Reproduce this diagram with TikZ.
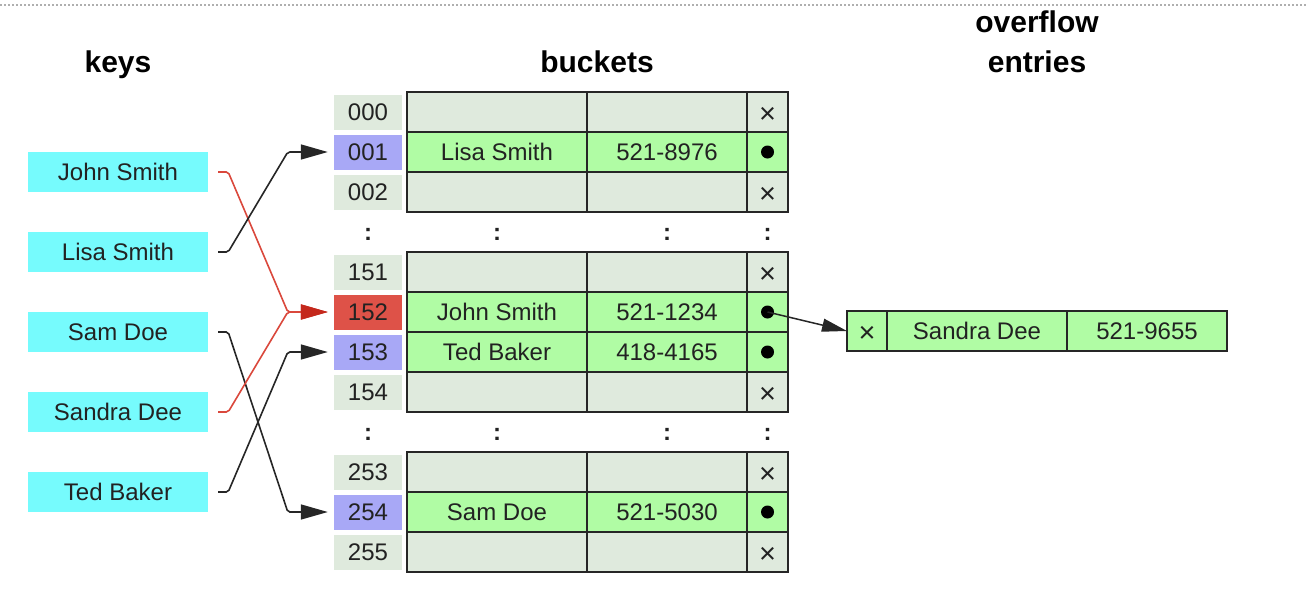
\documentclass[tikz,border=0pt]{standalone}
\usepackage{fontspec}
\setmainfont{Liberation Sans}
\usetikzlibrary{arrows.meta}
\definecolor{keycyan}{RGB}{118,251,253}
\definecolor{lav}{RGB}{168,168,246}
\definecolor{hotred}{RGB}{222,82,72}
\definecolor{lgreen}{RGB}{176,252,164}
\definecolor{lgrey}{RGB}{223,234,221}
\definecolor{redline}{RGB}{218,72,60}
\definecolor{redtip}{RGB}{196,40,28}
\definecolor{txt}{RGB}{34,34,34}
\definecolor{dotgrey}{RGB}{175,175,175}
\newcommand\brow[6]{%
  \node[cell,fill=#3,minimum width=180pt] (n#1) at (497,#2) {#4};
  \node[cell,fill=#3,minimum width=160pt] (p#1) at (667,#2) {#5};
  \node[cell,fill=#3,minimum width=41pt] (x#1) at (767.5,#2) {};
  \node[#6] at (x#1.center) {};
}
\tikzset{
  body/.style={font=\fontsize{24}{24}\selectfont, text=txt},
  head/.style={font=\bfseries\fontsize{30}{40}\selectfont, text=black, inner sep=0pt, anchor=base, align=center},
  keybox/.style={body, fill=keycyan, minimum width=180pt, minimum height=40pt, inner sep=0pt, text height=17.2pt, text depth=0pt},
  idx/.style={body, fill=lgrey, minimum width=68pt, minimum height=35pt, inner sep=0pt, text height=17.2pt, text depth=0pt},
  cell/.style={body, draw=black!85, line width=1.3pt, minimum height=40pt, inner sep=0pt, outer sep=0pt, text height=17.2pt, text depth=0pt},
  nil/.style={inner sep=0pt, label={[inner sep=0pt,yshift=-3pt,font=\fontsize{29}{29}\selectfont,text=txt]center:×}},
  ptr/.style={circle, fill=black, inner sep=0pt, minimum size=13pt},
  colon/.style={font=\bfseries\fontsize{24}{24}\selectfont, text=txt, inner sep=0pt},
  outer/.style={draw=black!85, line width=2.2pt},
  conn/.style={draw=black!85, line width=1.6pt, rounded corners=2pt, -{Triangle[length=27pt,width=15pt]}},
  redconn/.style={draw=redline, line width=1.6pt, rounded corners=2pt, -{Triangle[length=27pt,width=15pt,color=redtip]}},
  dotline/.style={draw=dotgrey, line width=1.5pt, dash pattern=on 2pt off 2pt},
}
\begin{document}
\begin{tikzpicture}[x=1pt,y=-1pt]
\useasboundingbox (0,0) rectangle (1308,614);
\coordinate (tl) at (0,5);
\coordinate (tr) at (1308,5);
\draw[dotline] (tl) -- (tr);

% headers
\node[head] (hkeys) at (118,72) {keys};
\node[head] (hbuck) at (597,72) {buckets};
\node[head] (hover) at (1037,72) {overflow\\entries};

% keys
\node[keybox] (john)   at (118,172) {John Smith};
\node[keybox] (lisa)   at (118,252) {Lisa Smith};
\node[keybox] (sam)    at (118,332) {Sam Doe};
\node[keybox] (sandra) at (118,412) {Sandra Dee};
\node[keybox] (ted)    at (118,492) {Ted Baker};

% index column
\node[idx] (i000) at (368,112) {000};
\node[idx,fill=lav] (i001) at (368,152) {001};
\node[idx] (i002) at (368,192) {002};
\node[idx] (i151) at (368,272) {151};
\node[idx,fill=hotred] (i152) at (368,312) {152};
\node[idx,fill=lav] (i153) at (368,352) {153};
\node[idx] (i154) at (368,392) {154};
\node[idx] (i253) at (368,472) {253};
\node[idx,fill=lav] (i254) at (368,512) {254};
\node[idx] (i255) at (368,552) {255};

% buckets
\brow{000}{112}{lgrey}{}{}{nil}
\brow{001}{152}{lgreen}{Lisa Smith}{521-8976}{ptr}
\brow{002}{192}{lgrey}{}{}{nil}
\draw[outer] (n000.north west) rectangle (x002.south east);

\brow{151}{272}{lgrey}{}{}{nil}
\brow{152}{312}{lgreen}{John Smith}{521-1234}{ptr}
\brow{153}{352}{lgreen}{Ted Baker}{418-4165}{ptr}
\brow{154}{392}{lgrey}{}{}{nil}
\draw[outer] (n151.north west) rectangle (x154.south east);

\brow{253}{472}{lgrey}{}{}{nil}
\brow{254}{512}{lgreen}{Sam Doe}{521-5030}{ptr}
\brow{255}{552}{lgrey}{}{}{nil}
\draw[outer] (n253.north west) rectangle (x255.south east);

% colons
\foreach \yy/\nm in {234/a,434/b}{
  \node[colon] (c1\nm) at (368,\yy) {:};
  \node[colon] (c2\nm) at (497,\yy) {:};
  \node[colon] (c3\nm) at (667,\yy) {:};
  \node[colon] (c4\nm) at (767.5,\yy) {:};
}

% overflow entry
\node[cell,fill=lgreen,minimum width=40pt] (ox) at (867,331) {};
\node[nil] at (ox.center) {};
\node[cell,fill=lgreen,minimum width=180pt] (on) at (977,331) {Sandra Dee};
\node[cell,fill=lgreen,minimum width=160pt] (op) at (1147,331) {521-9655};
\draw[outer] (ox.north west) rectangle (op.south east);

% connectors
\draw[redconn] ([xshift=10pt]john.east) -- ++(10,0) -- ([xshift=-46pt]i152.west) -- ([xshift=-6pt]i152.west);
\draw[conn] ([xshift=10pt]lisa.east) -- ++(10,0) -- ([xshift=-46pt]i001.west) -- ([xshift=-6pt]i001.west);
\draw[conn] ([xshift=10pt]sam.east) -- ++(10,0) -- ([xshift=-46pt]i254.west) -- ([xshift=-6pt]i254.west);
\draw[redconn] ([xshift=10pt]sandra.east) -- ++(10,0) -- ([xshift=-46pt]i152.west) -- ([xshift=-6pt]i152.west);
\draw[conn] ([xshift=10pt]ted.east) -- ++(10,0) -- ([xshift=-46pt]i153.west) -- ([xshift=-6pt]i153.west);
\draw[draw=black!85, line width=1.5pt, -{Triangle[length=25pt,width=13pt]}] (x152.center) -- (ox.west);
\end{tikzpicture}
\end{document}
